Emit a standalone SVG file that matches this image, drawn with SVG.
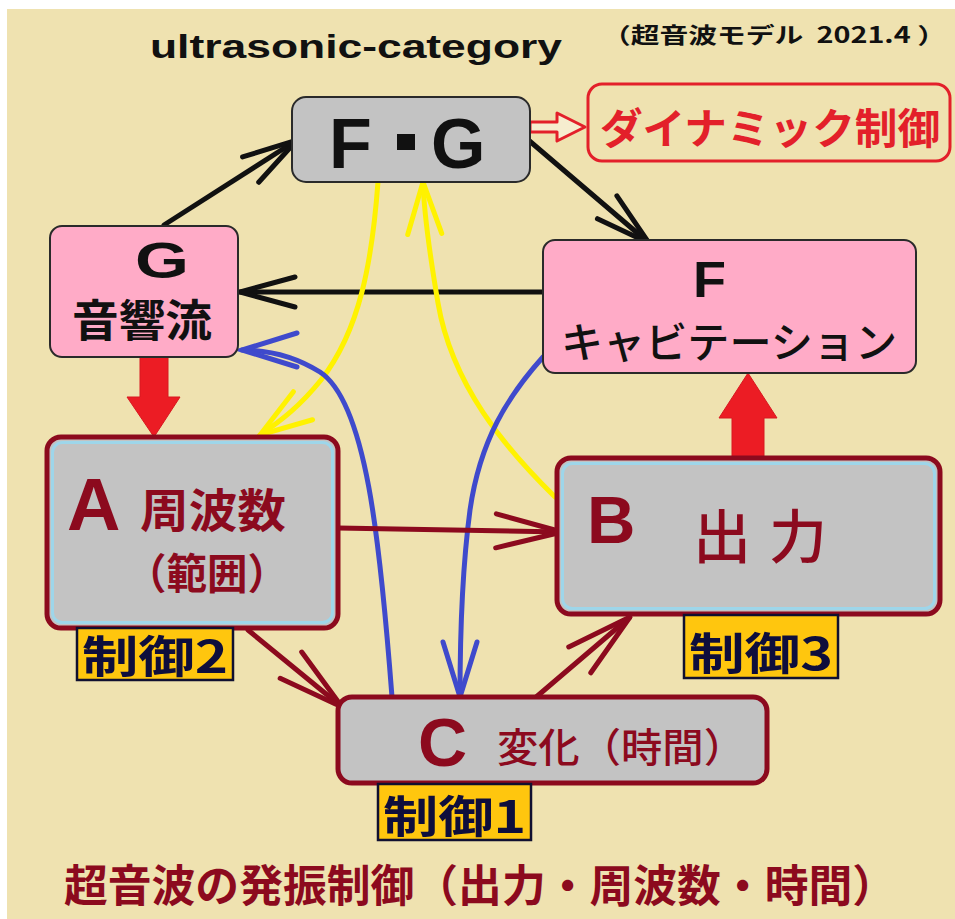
<svg xmlns="http://www.w3.org/2000/svg" width="955" height="919" viewBox="0 0 955 919">
<style>
.bg{fill:#EFE2B0}
.gbox{fill:#C3C3C3;stroke:#2a2a2a;stroke-width:2}
.pbox{fill:#FFABC7;stroke:#2a2a2a;stroke-width:2}
.rbox{fill:#C3C3C3;stroke:#8C0A1E;stroke-width:5}
.inner{fill:none;stroke:#9ED6EA;stroke-width:3}
.lab{fill:#FFC60E;stroke:#101030;stroke-width:2.5}
.lat{font-family:"Liberation Sans",Arial,sans-serif;font-weight:bold}
.jp{font-family:"Noto Sans CJK JP","Noto Sans CJK SC",sans-serif}
.dr{fill:#8C0A1E}
.navy{fill:#0E0E3C}
.blk{fill:#111}
.cb{fill:none;stroke:#111;stroke-width:5;stroke-linecap:round}
.cr{fill:none;stroke:#8C0A1E;stroke-width:5;stroke-linecap:round}
.cu{fill:none;stroke:#3F4ACC;stroke-width:5;stroke-linecap:round}
.cy{fill:none;stroke:#FFF200;stroke-width:5;stroke-linecap:round}
.fat{fill:#EC1C24;stroke:#D81820;stroke-width:1}
</style>
<defs>
<marker id="mB" markerUnits="userSpaceOnUse" orient="auto" markerWidth="10" markerHeight="10" overflow="visible"><path d="M-55,-15 L0,0 L-55,15" fill="none" stroke="#111" stroke-width="5" stroke-linecap="round"/></marker>
<marker id="mR" markerUnits="userSpaceOnUse" orient="auto" markerWidth="10" markerHeight="10" overflow="visible"><path d="M-66,-17 L0,0 L-66,17" fill="none" stroke="#8C0A1E" stroke-width="5" stroke-linecap="round"/></marker>
<marker id="mU" markerUnits="userSpaceOnUse" orient="auto" markerWidth="10" markerHeight="10" overflow="visible"><path d="M-55,-17 L0,0 L-55,17" fill="none" stroke="#3F4ACC" stroke-width="5" stroke-linecap="round"/></marker>
<marker id="mY" markerUnits="userSpaceOnUse" orient="auto" markerWidth="10" markerHeight="10" overflow="visible"><path d="M-52,-17 L0,0 L-52,17" fill="none" stroke="#FFF200" stroke-width="5" stroke-linecap="round"/></marker>
</defs>
<rect x="0" y="0" width="955" height="919" fill="#FFFFFF"/>
<rect class="bg" x="7" y="9" width="948" height="910"/>

<g id="titles">
<text class="lat blk" x="150" y="58" font-size="33" textLength="412" lengthAdjust="spacingAndGlyphs">ultrasonic-category</text>
<text class="jp blk" x="602" y="43" font-size="22" font-weight="bold" textLength="344" lengthAdjust="spacingAndGlyphs">（超音波モデル&#160;&#160;2021.4&#160;）</text>
<text class="jp dr" x="64" y="902" font-size="44" font-weight="bold" textLength="832" lengthAdjust="spacingAndGlyphs">超音波の発振制御（出力・周波数・時間）</text>
</g>

<g id="connectors">
<path class="cb" d="M164,225 L297,140" marker-end="url(#mB)"/>
<path class="cb" d="M526,138 L649,243" marker-end="url(#mB)"/>
<path class="cb" d="M543,292 L240,292" marker-end="url(#mB)"/>
<polygon points="530,122 557,122 557,113 585,127 557,141 557,132 530,132" fill="#F6EDCF" stroke="#E3202A" stroke-width="3" stroke-linejoin="round"/>
<polygon class="fat" points="140,357 168,357 168,397 180,397 154,437 127,397 140,397"/>
<polygon class="fat" points="732,457 764,457 764,418 777,418 748,373 719,418 732,418"/>
<path class="cy" d="M378,182 C372,262 360,330 321,380 C300,406 282,420 260,435" marker-end="url(#mY)"/>
<path class="cy" d="M555,497 C505,448 452,385 438,303 C429,250 424,212 423,182" marker-end="url(#mY)"/>
<path class="cu" d="M392,697 C380,540 366,402 320,372 C296,357 268,350 242,350" marker-end="url(#mU)"/>
<path class="cu" d="M543,357 C508,396 480,440 470,510 C462,570 460,640 460,697" marker-end="url(#mU)"/>
<path class="cr" d="M338,528 L562,532" marker-end="url(#mR)"/>
<path class="cr" d="M248,630 L342,707" marker-end="url(#mR)"/>
<path class="cr" d="M535,698 L630,617" marker-end="url(#mR)"/>
</g>

<g id="node-FG">
<rect class="gbox" x="292" y="97" width="238" height="85" rx="14"/>
<text class="lat blk" font-size="70"><tspan x="329" y="168">F</tspan><tspan x="431" y="168">G</tspan></text>
<rect x="397" y="134" width="18" height="16" fill="#111"/>
</g>

<g id="node-dynamic">
<rect x="588" y="84" width="362" height="77" rx="14" fill="none" stroke="#E3202A" stroke-width="3"/>
<text class="jp" x="600" y="144" font-size="42" font-weight="bold" fill="#E3202A" textLength="340" lengthAdjust="spacingAndGlyphs">ダイナミック制御</text>
</g>

<g id="node-G">
<rect class="pbox" x="50" y="226" width="188" height="131" rx="12"/>
<text class="lat blk" x="135" y="278" font-size="50" textLength="54" lengthAdjust="spacingAndGlyphs">G</text>
<text class="jp blk" x="72" y="337" font-size="44" font-weight="bold" textLength="140" lengthAdjust="spacingAndGlyphs">音響流</text>
</g>

<g id="node-F">
<rect class="pbox" x="543" y="240" width="373" height="133" rx="12"/>
<text class="lat blk" x="693" y="297" font-size="50" textLength="33" lengthAdjust="spacingAndGlyphs">F</text>
<text class="jp blk" x="561" y="358" font-size="42" font-weight="500" textLength="336" lengthAdjust="spacingAndGlyphs">キャビテーション</text>
</g>

<g id="node-A">
<rect class="rbox" x="47" y="437" width="291" height="191" rx="14"/>
<rect class="inner" x="52.5" y="442.5" width="280" height="180" rx="10"/>
<text class="lat dr" x="67" y="530" font-size="74">A</text>
<text class="jp dr" x="140" y="527" font-size="46" font-weight="bold" textLength="146" lengthAdjust="spacingAndGlyphs">周波数</text>
<text class="jp dr" x="126" y="589" font-size="42" font-weight="bold" textLength="162" lengthAdjust="spacingAndGlyphs">（範囲）</text>
</g>

<g id="node-B">
<rect class="rbox" x="557" y="458" width="383" height="156" rx="14"/>
<rect class="inner" x="562.5" y="463.5" width="372" height="145" rx="10"/>
<text class="lat dr" x="587" y="543" font-size="67">B</text>
<text class="jp dr" x="693" y="558" font-size="58" font-weight="500" letter-spacing="18">出力</text>
</g>

<g id="node-C">
<rect class="rbox" x="338" y="697" width="429" height="86" rx="14"/>
<text class="lat dr" x="418" y="766" font-size="68">C</text>
<text class="jp dr" x="497" y="762" font-size="40" font-weight="500" textLength="248" lengthAdjust="spacingAndGlyphs">変化（時間）</text>
</g>

<g id="label-2">
<rect class="lab" x="77" y="628" width="156" height="52"/>
<text class="jp navy" x="82" y="673" font-size="44" font-weight="bold" textLength="146" lengthAdjust="spacingAndGlyphs">制御2</text>
</g>
<g id="label-3">
<rect class="lab" x="684" y="615" width="154" height="63"/>
<text class="jp navy" x="689" y="670" font-size="44" font-weight="bold" textLength="144" lengthAdjust="spacingAndGlyphs">制御3</text>
</g>
<g id="label-1">
<rect class="lab" x="378" y="784" width="153" height="56"/>
<text class="jp navy" x="383" y="833" font-size="44" font-weight="bold" textLength="143" lengthAdjust="spacingAndGlyphs">制御1</text>
</g>
</svg>
